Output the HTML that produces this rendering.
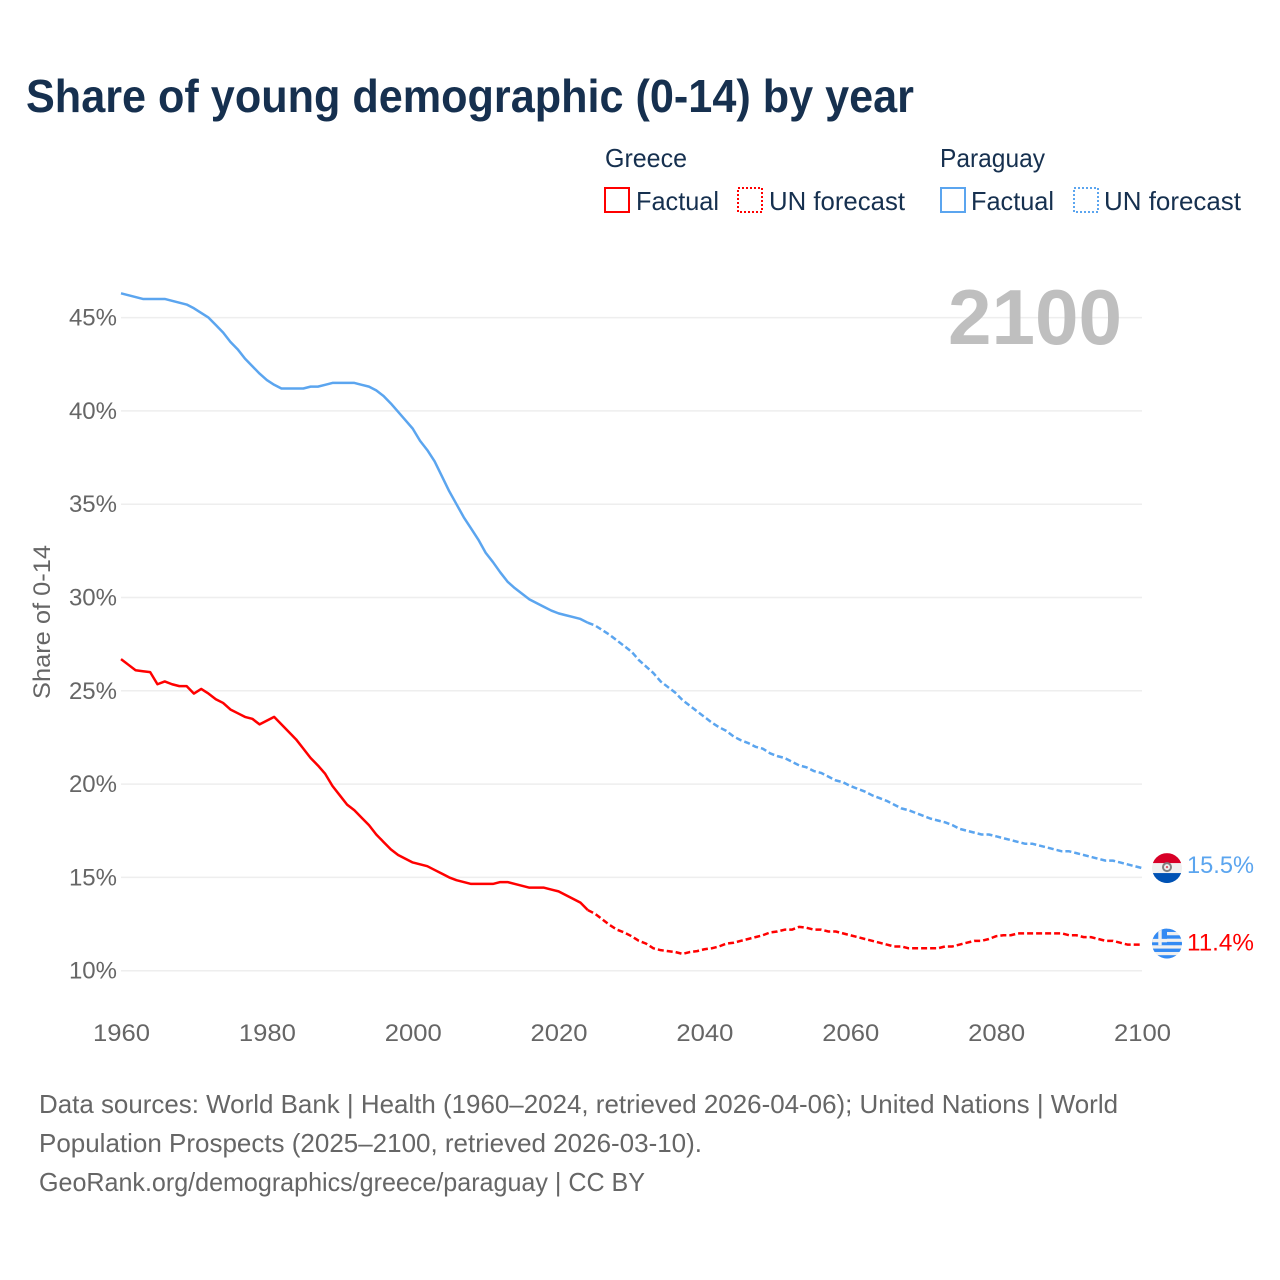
<!DOCTYPE html>
<html lang="en">
<head>
<meta charset="utf-8">
<title>Share of young demographic (0-14) by year</title>
<style>
html,body{margin:0;padding:0;background:#fff;}
svg{display:block;font-family:"Liberation Sans",sans-serif;}
</style>
</head>
<body>
<svg id="chart" width="1280" height="1280" viewBox="0 0 1280 1280" xmlns="http://www.w3.org/2000/svg">
<defs>
<clipPath id="flag-clip-py"><circle cx="0" cy="0" r="15"/></clipPath>
<clipPath id="flag-clip-gr"><circle cx="0" cy="0" r="15"/></clipPath>
</defs>
<rect x="0" y="0" width="1280" height="1280" fill="#ffffff"/>
<text x="26" y="112" font-size="46" font-weight="700" fill="#16304f" textLength="888" lengthAdjust="spacingAndGlyphs">Share of young demographic (0-14) by year</text>

<g font-size="26" fill="#16304f">
<text x="605" y="167" textLength="82" lengthAdjust="spacingAndGlyphs">Greece</text>
<rect x="605" y="188" width="24" height="24" fill="none" stroke="#ff0000" stroke-width="2"/>
<text x="636" y="210" textLength="83" lengthAdjust="spacingAndGlyphs">Factual</text>
<rect x="738" y="188" width="24" height="24" fill="none" stroke="#ff0000" stroke-width="2" stroke-dasharray="2 2"/>
<text x="769" y="210" textLength="136" lengthAdjust="spacingAndGlyphs">UN forecast</text>
<text x="940" y="167" textLength="105" lengthAdjust="spacingAndGlyphs">Paraguay</text>
<rect x="941" y="188" width="24" height="24" fill="none" stroke="#5ba5ef" stroke-width="2"/>
<text x="971" y="210" textLength="83" lengthAdjust="spacingAndGlyphs">Factual</text>
<rect x="1074" y="188" width="24" height="24" fill="none" stroke="#5ba5ef" stroke-width="2" stroke-dasharray="2 2"/>
<text x="1104" y="210" textLength="137" lengthAdjust="spacingAndGlyphs">UN forecast</text>
</g>

<g id="grid"></g>
<g id="yticks" font-size="24" fill="#666666"></g>
<g id="xticks" font-size="24" fill="#666666"></g>
<text transform="translate(50,622) rotate(-90)" text-anchor="middle" font-size="24" fill="#666666" textLength="154" lengthAdjust="spacingAndGlyphs">Share of 0-14</text>
<text x="948" y="344" font-size="78" font-weight="700" fill="#bfbfbf" textLength="174" lengthAdjust="spacingAndGlyphs">2100</text>

<g id="series"></g>

<g id="flag-paraguay">
<g clip-path="url(#flag-clip-py)">
<rect x="-15" y="-15" width="30" height="30" fill="#f0f0f0"/>
<rect x="-15" y="-15" width="30" height="10" fill="#d80027"/>
<rect x="-15" y="5" width="30" height="10" fill="#0052b4"/>
</g>
<circle cx="0" cy="-1" r="4" fill="none" stroke="#808080" stroke-width="2"/>
<circle cx="0" cy="-1" r="1.2" fill="#d85a6a"/>
</g>
<g id="flag-greece">
<g clip-path="url(#flag-clip-gr)">
<rect x="-15" y="-15" width="30" height="30" fill="#f0f0f0"/>
<rect x="-15" y="-15" width="30" height="3.4" fill="#338af3"/>
<rect x="0" y="-8.3" width="15" height="3.4" fill="#338af3"/>
<rect x="0" y="-1.7" width="15" height="3.4" fill="#338af3"/>
<rect x="-15" y="5" width="30" height="3.4" fill="#338af3"/>
<rect x="-15" y="11.6" width="30" height="3.4" fill="#338af3"/>
<rect x="-15" y="-15" width="15" height="16.7" fill="#338af3"/>
<rect x="-8.7" y="-15" width="3.4" height="16.7" fill="#f0f0f0"/>
<rect x="-15" y="-4.7" width="15" height="3.4" fill="#f0f0f0"/>
</g>
</g>
<text id="end-label-paraguay" x="1187" font-size="24" fill="#5ba5ef" textLength="67" lengthAdjust="spacingAndGlyphs"></text>
<text id="end-label-greece" x="1187" font-size="24" fill="#ff0000" textLength="67" lengthAdjust="spacingAndGlyphs"></text>

<g font-size="26" fill="#666666">
<text x="39" y="1113" textLength="1079" lengthAdjust="spacingAndGlyphs">Data sources: World Bank | Health (1960–2024, retrieved 2026-04-06); United Nations | World</text>
<text x="39" y="1152" textLength="663" lengthAdjust="spacingAndGlyphs">Population Prospects (2025–2100, retrieved 2026-03-10).</text>
<text x="39" y="1191" textLength="606" lengthAdjust="spacingAndGlyphs">GeoRank.org/demographics/greece/paraguay | CC BY</text>
</g>
</svg>
<script>
const startYear = 1960;
const lastFactualYear = 2024;
const xTickLabels = [1960, 1980, 2000, 2020, 2040, 2060, 2080, 2100];
const yTickLabels = [10, 15, 20, 25, 30, 35, 40, 45];
const greeceValues = [
26.7,26.4,26.1,26.05,26.0,25.35,25.5,25.35,25.25,25.25,
24.85,25.1,24.85,24.55,24.35,24.0,23.8,23.6,23.5,23.2,
23.4,23.6,23.2,22.8,22.4,21.9,21.4,21.0,20.55,19.9,
19.4,18.9,18.6,18.2,17.8,17.3,16.9,16.5,16.2,16.0,
15.8,15.7,15.6,15.4,15.2,15.0,14.85,14.75,14.65,14.65,
14.65,14.65,14.75,14.75,14.65,14.55,14.45,14.45,14.45,14.35,
14.25,14.05,13.85,13.65,13.25,13.05,12.75,12.45,12.2,12.05,
11.85,11.6,11.45,11.2,11.1,11.05,11.0,10.9,11.0,11.05,
11.15,11.2,11.3,11.45,11.5,11.6,11.7,11.8,11.9,12.05,
12.1,12.2,12.2,12.35,12.3,12.2,12.2,12.1,12.1,12.0,
11.9,11.8,11.7,11.6,11.5,11.4,11.3,11.3,11.2,11.2,
11.2,11.2,11.2,11.3,11.3,11.4,11.5,11.6,11.6,11.7,
11.85,11.9,11.9,12.0,12.0,12.0,12.0,12.0,12.0,12.0,
11.9,11.9,11.8,11.8,11.7,11.6,11.6,11.5,11.4,11.4,
11.4
];
const paraguayValues = [
46.3,46.2,46.1,46.0,46.0,46.0,46.0,45.9,45.8,45.7,
45.5,45.25,45.0,44.6,44.2,43.7,43.3,42.8,42.4,42.0,
41.65,41.4,41.2,41.2,41.2,41.2,41.3,41.3,41.4,41.5,
41.5,41.5,41.5,41.4,41.3,41.1,40.8,40.4,39.95,39.5,
39.05,38.4,37.9,37.3,36.5,35.7,35.0,34.3,33.7,33.1,
32.4,31.9,31.35,30.85,30.5,30.2,29.9,29.7,29.5,29.3,
29.15,29.05,28.95,28.85,28.65,28.5,28.25,28.0,27.7,27.4,
27.1,26.65,26.3,25.95,25.5,25.2,24.9,24.5,24.2,23.9,
23.6,23.3,23.05,22.85,22.55,22.35,22.2,22.0,21.9,21.65,
21.5,21.4,21.2,21.0,20.9,20.7,20.6,20.4,20.2,20.1,
19.9,19.75,19.6,19.4,19.25,19.1,18.9,18.7,18.6,18.45,
18.3,18.15,18.05,17.95,17.8,17.6,17.5,17.4,17.3,17.3,
17.2,17.1,17.0,16.9,16.8,16.8,16.7,16.6,16.5,16.4,
16.4,16.3,16.2,16.1,16.0,15.9,15.9,15.8,15.7,15.6,
15.5
];

const svgNS = 'http://www.w3.org/2000/svg';
const xScale = function (year) { return 121 + (year - 1960) * (1021 / 140); };
const yScale = function (v) { return 970.7 - (v - 10) * 18.66; };
const mk = function (tag) { return document.createElementNS(svgNS, tag); };

const gridGroup = document.getElementById('grid');
const yTickGroup = document.getElementById('yticks');
yTickLabels.forEach(function (v) {
  const line = mk('line');
  
  
  line.setAttribute('x1', 121);
  line.setAttribute('x2', 1142);
  line.setAttribute('y1', yScale(v));
  line.setAttribute('y2', yScale(v));
  line.setAttribute('stroke', '#eeeeee');
  line.setAttribute('stroke-width', '1.5');
  gridGroup.appendChild(line);
  const label = mk('text');
  
  
  label.setAttribute('x', 117);
  label.setAttribute('y', yScale(v) + 8);
  label.setAttribute('text-anchor', 'end');
  label.textContent = v + '%';
  yTickGroup.appendChild(label);
});

const xTickGroup = document.getElementById('xticks');
xTickLabels.forEach(function (year) {
  const label = mk('text');
  
  
  label.setAttribute('x', xScale(year) + 0.5);
  label.setAttribute('y', 1041);
  label.setAttribute('text-anchor', 'middle');
  label.setAttribute('textLength', '57');
  label.setAttribute('lengthAdjust', 'spacingAndGlyphs');
  label.textContent = year;
  xTickGroup.appendChild(label);
});

const seriesGroup = document.getElementById('series');
const pathFor = function (values, fromYear, toYear) {
  let d = '';
  values.forEach(function (v, i) {
    const yr = startYear + i;
    if (yr < fromYear || yr > toYear) return;
    d += (d === '' ? 'M' : 'L') + xScale(yr).toFixed(2) + ' ' + yScale(v).toFixed(2);
  });
  return d;
};
const drawLine = function (name, values, color, fromYear, toYear, dash) {
  const p = mk('path');
  
  
  p.setAttribute('d', pathFor(values, fromYear, toYear));
  p.setAttribute('fill', 'none');
  p.setAttribute('stroke', color);
  p.setAttribute('stroke-width', '2.5');
  p.setAttribute('stroke-linejoin', 'round');
  if (dash) p.setAttribute('stroke-dasharray', dash);
  seriesGroup.appendChild(p);
};
const endYear = startYear + greeceValues.length - 1;
drawLine('line-paraguay-factual', paraguayValues, '#5ba5ef', startYear, lastFactualYear, null);
drawLine('line-paraguay-forecast', paraguayValues, '#5ba5ef', lastFactualYear, endYear, '6 3');
drawLine('line-greece-factual', greeceValues, '#ff0000', startYear, lastFactualYear, null);
drawLine('line-greece-forecast', greeceValues, '#ff0000', lastFactualYear, endYear, '6 3');

const lastGr = greeceValues[greeceValues.length - 1];
const lastPy = paraguayValues[paraguayValues.length - 1];
document.getElementById('flag-paraguay').setAttribute('transform', 'translate(1167,' + yScale(lastPy) + ')');
document.getElementById('flag-greece').setAttribute('transform', 'translate(1167,' + (yScale(lastGr) - 1) + ')');
const lblPy = document.getElementById('end-label-paraguay');
lblPy.setAttribute('y', yScale(lastPy) + 5);
lblPy.textContent = lastPy.toFixed(1) + '%';
const lblGr = document.getElementById('end-label-greece');
lblGr.setAttribute('y', yScale(lastGr) + 6);
lblGr.textContent = lastGr.toFixed(1) + '%';
</script>
</body>
</html>
